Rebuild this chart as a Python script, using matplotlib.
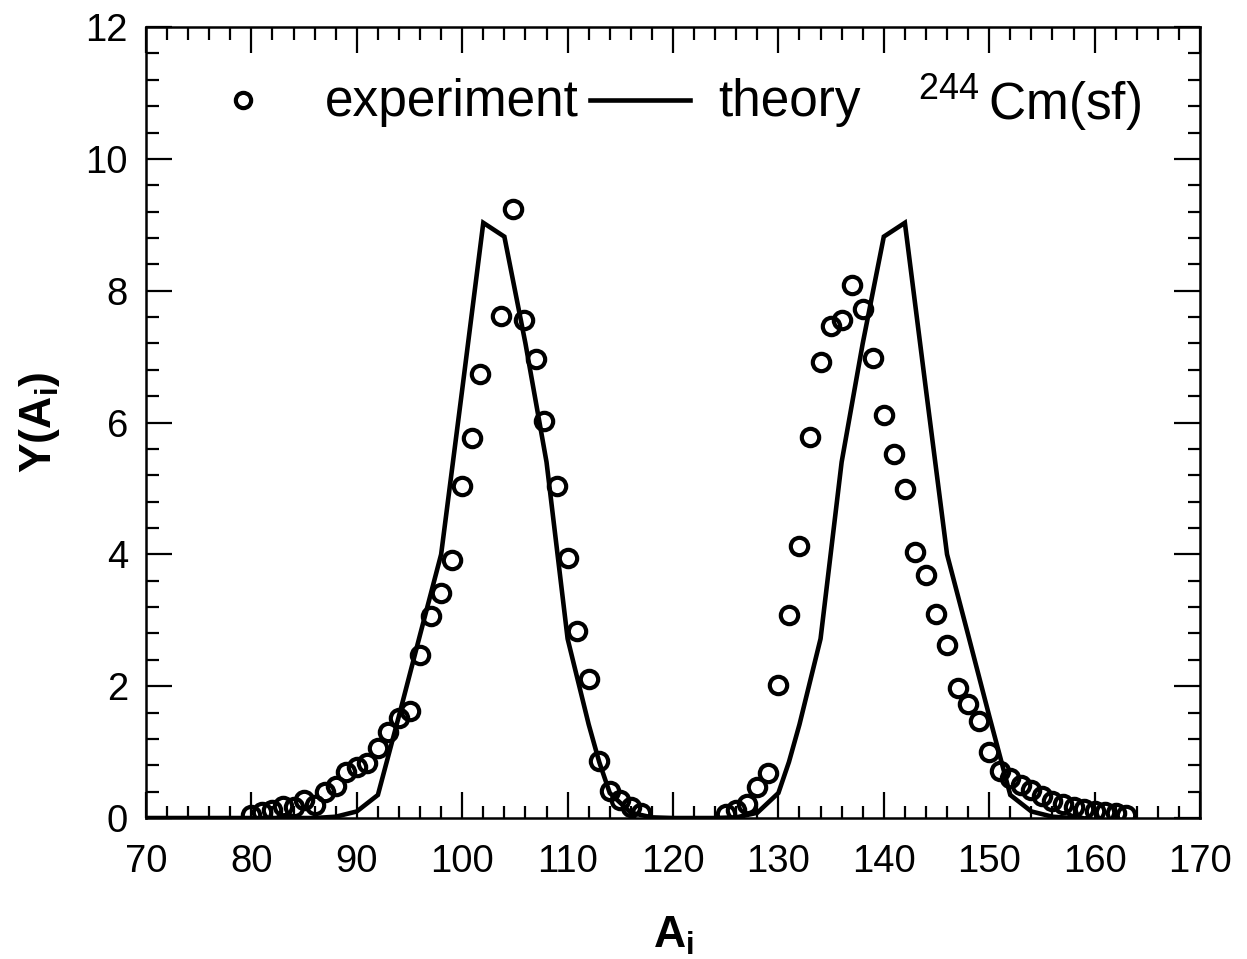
import numpy as np
import matplotlib
matplotlib.use("Agg")
import matplotlib.pyplot as plt
from matplotlib.ticker import MultipleLocator

plt.rcParams["font.family"] = ["Liberation Sans", "DejaVu Sans"]
plt.rcParams["mathtext.fontset"] = "custom"
plt.rcParams["mathtext.rm"] = "Liberation Sans"
plt.rcParams["mathtext.bf"] = "Liberation Sans:bold"

# ── Data ──────────────────────────────────────────────────────────────────────
# experimental yields, light and heavy fragments
exp_A_light = [80, 81, 82, 83, 84, 85, 86, 87, 88, 89, 90, 91, 92, 93, 94, 95,
               96, 97, 98, 99, 100, 100.9, 101.7, 103.7, 104.8, 105.9, 107, 107.8,
               109, 110, 110.9, 112, 113, 114, 115, 116, 117]
exp_Y_light = [0.05, 0.09, 0.12, 0.18, 0.16, 0.27, 0.2, 0.4, 0.48, 0.7, 0.78, 0.83,
               1.06, 1.31, 1.52, 1.63, 2.48, 3.06, 3.42, 3.92, 5.03, 5.76, 6.74,
               7.62, 9.24, 7.55, 6.97, 6.03, 5.03, 3.94, 2.83, 2.11, 0.87, 0.41,
               0.28, 0.16, 0.08]

exp_A_heavy = [125, 126, 127, 128, 129, 130, 131, 132, 133, 134, 135, 136, 137, 138,
               139, 140, 141, 142, 143, 144, 145, 146, 147, 148, 149, 150, 151, 152,
               153, 154, 155, 156, 157, 158, 159, 160, 161, 162, 163]
exp_Y_heavy = [0.06, 0.12, 0.22, 0.47, 0.68, 2.02, 3.08, 4.13, 5.78, 6.92, 7.47, 7.56,
               8.09, 7.72, 6.98, 6.11, 5.52, 4.99, 4.03, 3.68, 3.09, 2.63, 1.98, 1.73,
               1.47, 1.0, 0.72, 0.6, 0.5, 0.42, 0.33, 0.26, 0.21, 0.16, 0.13, 0.11,
               0.09, 0.07, 0.05]

# theory (symmetric about A = 122 for 244Cm)
th_A_light = [70, 86, 88, 90, 92, 94, 96, 98, 100, 102, 104, 106, 108, 110, 112,
              113, 114, 116, 118, 120, 122]
th_Y_light = [0, 0, 0.02, 0.1, 0.35, 1.55, 2.78, 4.0, 6.5, 9.03, 8.82, 7.2, 5.4,
              2.72, 1.42, 0.85, 0.38, 0.08, 0.01, 0, 0]
A_TOT = 244

th_A = np.concatenate([th_A_light, A_TOT - np.array(th_A_light[::-1])])
th_Y = np.concatenate([th_Y_light, th_Y_light[::-1]])
keep = th_A <= 170
th_A, th_Y = th_A[keep], th_Y[keep]

# ── Chart ─────────────────────────────────────────────────────────────────────
fig = plt.figure(figsize=(12.47, 9.59), dpi=100)
ax = fig.add_axes([0.1171, 0.147, 0.8452, 0.8248])

ax.plot(th_A, th_Y, color="black", lw=3.3, solid_joinstyle="miter", zorder=2)
ax.plot(exp_A_light + exp_A_heavy, exp_Y_light + exp_Y_heavy, ls="none",
        marker="o", ms=12.5, mfc="none", mec="black", mew=3.0, zorder=3)

ax.set_xlim(70, 170)
ax.set_ylim(0, 12)
ax.xaxis.set_major_locator(MultipleLocator(10))
ax.xaxis.set_minor_locator(MultipleLocator(2))
ax.yaxis.set_major_locator(MultipleLocator(2))
ax.yaxis.set_minor_locator(MultipleLocator(0.4))
ax.tick_params(which="both", direction="in", top=True, right=True,
               labelsize=27.5, width=1.6)
ax.tick_params(which="major", length=19)
ax.tick_params(which="minor", length=9)
ax.tick_params(axis="x", pad=19)
ax.tick_params(axis="y", pad=13)
for s in ax.spines.values():
    s.set_linewidth(1.8)

ax.set_xlabel(r"$\mathbf{A_i}$", fontsize=32, labelpad=25)
ax.set_ylabel(r"$\mathbf{Y(A_i)}$", fontsize=32, labelpad=17)

# legend drawn by hand to mimic the original layout
ax.plot([79.2], [10.9], ls="none", marker="o", ms=11, mfc="none", mec="black",
        mew=3.0, clip_on=False)
ax.text(87.0, 10.85, "experiment", fontsize=37, va="center", ha="left")
ax.plot([112.1, 121.6], [10.9, 10.9], color="black", lw=3.3)
ax.text(124.3, 10.85, "theory", fontsize=37, va="center", ha="left")
ax.text(143.2, 10.85, r"$^{244}\,$Cm(sf)", fontsize=37, va="center", ha="left")

fig.savefig("out.png", dpi=100)
